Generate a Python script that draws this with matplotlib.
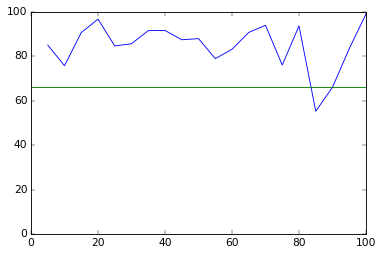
import matplotlib
matplotlib.use("Agg")
import matplotlib.pyplot as plt

x_vals = [5, 10, 15, 20, 25, 30, 35, 40, 45, 50, 55, 60, 65, 70, 75, 80, 85, 90, 95, 100]
y_vals = [85.1, 75.8, 90.7, 96.8, 84.7, 85.7, 91.6, 91.7, 87.5, 88.0,
          79.0, 83.2, 90.8, 94.0, 76.1, 93.7, 55.3, 66.1, 83.5, 99.1]
threshold = 66.1

plt.style.use("classic")
dpi = 63.5
fig = plt.figure(figsize=(381 / dpi, 256 / dpi), dpi=dpi)
ax = fig.add_axes([31 / 381, 22 / 256, 335 / 381, 222 / 256])

ax.plot(x_vals, y_vals, color="b")
ax.axhline(threshold, color="g")
ax.set_xlim(0, 100)
ax.set_ylim(0, 100)

fig.savefig("out.png", dpi=dpi)
